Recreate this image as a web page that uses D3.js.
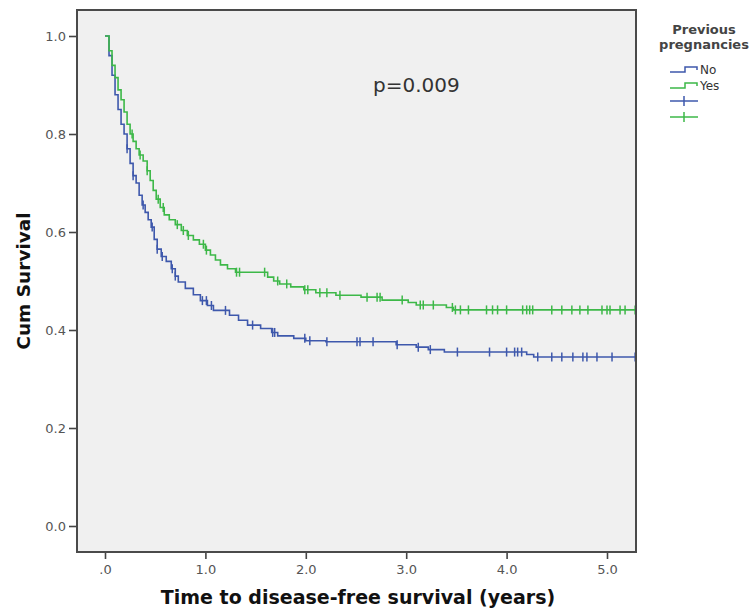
<!DOCTYPE html>
<html><head><meta charset="utf-8">
<script src="https://cdn.jsdelivr.net/npm/d3@7"></script>
<style>body{margin:0;background:#fff}svg{display:block}</style>
</head><body>
<script>
// ---- data ----
const groups = ["No", "Yes"];
const colors = ["#3E58AC", "#3DB848"];
// Kaplan-Meier steps: [time, survival after step]
const stepsNo = [[0,1.0],[0.04,0.96],[0.07,0.92],[0.10,0.88],[0.13,0.85],[0.16,0.82],[0.19,0.80],[0.22,0.77],[0.25,0.74],[0.28,0.715],[0.31,0.70],[0.34,0.675],[0.37,0.655],[0.40,0.64],[0.43,0.625],[0.46,0.61],[0.49,0.585],[0.52,0.565],[0.56,0.55],[0.61,0.54],[0.66,0.525],[0.70,0.51],[0.73,0.498],[0.80,0.485],[0.88,0.472],[0.95,0.46],[1.02,0.45],[1.08,0.44],[1.24,0.43],[1.33,0.42],[1.42,0.41],[1.55,0.403],[1.66,0.395],[1.72,0.388],[1.88,0.383],[2.00,0.378],[2.20,0.376],[2.90,0.370],[3.10,0.365],[3.22,0.360],[3.38,0.355],[4.20,0.350],[4.27,0.345]];
const stepsYes = [[0,1.0],[0.04,0.97],[0.07,0.94],[0.10,0.915],[0.13,0.89],[0.16,0.87],[0.19,0.845],[0.22,0.82],[0.25,0.80],[0.28,0.785],[0.31,0.77],[0.34,0.757],[0.38,0.745],[0.42,0.725],[0.45,0.705],[0.48,0.685],[0.51,0.667],[0.55,0.65],[0.59,0.635],[0.64,0.625],[0.70,0.615],[0.76,0.603],[0.82,0.593],[0.88,0.584],[0.94,0.575],[1.00,0.563],[1.05,0.553],[1.10,0.543],[1.15,0.533],[1.22,0.525],[1.30,0.518],[1.62,0.508],[1.68,0.500],[1.74,0.494],[1.85,0.488],[1.98,0.482],[2.10,0.476],[2.30,0.471],[2.55,0.467],[2.76,0.461],[3.02,0.456],[3.10,0.451],[3.40,0.446],[3.47,0.441]];
// censored observation times
const censorNo = [0.22,0.28,0.38,0.47,0.52,0.57,0.67,0.70,0.97,1.01,1.06,1.20,1.47,1.67,1.69,1.99,2.04,2.21,2.51,2.54,2.67,2.91,3.12,3.24,3.51,3.83,4.00,4.08,4.11,4.15,4.31,4.45,4.55,4.66,4.76,4.80,4.90,5.05,5.28];
const censorYes = [0.27,0.35,0.42,0.53,0.58,0.72,0.78,0.83,0.98,1.01,1.31,1.34,1.59,1.72,1.81,1.99,2.02,2.14,2.21,2.34,2.61,2.71,2.74,2.96,3.14,3.17,3.27,3.46,3.49,3.54,3.62,3.80,3.86,3.91,4.00,4.16,4.20,4.23,4.26,4.45,4.55,4.65,4.73,4.81,4.95,5.00,5.03,5.13,5.18,5.28];
const yTicks = [0, 0.2, 0.4, 0.6, 0.8, 1.0];
const xTicks = [0, 1, 2, 3, 4, 5];
const pText = "p=0.009";
const xTitle = "Time to disease-free survival (years)";
const yTitle = "Cum Survival";
const legendTitle = ["Previous", "pregnancies"];

// ---- layout ----
const W = 751, H = 611;
const frame = {l: 77, r: 636, t: 10, b: 552};
const svg = d3.select("body").append("svg").attr("width", W).attr("height", H);
const x = d3.scaleLinear().domain([0, 5]).range([105, 607]);
const y = d3.scaleLinear().domain([0, 1]).range([526, 36]);
const font = "'DejaVu Sans', Verdana, sans-serif";

svg.append("rect").attr("x", frame.l).attr("y", frame.t)
  .attr("width", frame.r - frame.l).attr("height", frame.b - frame.t)
  .attr("fill", "#f0f0f0");

svg.append("clipPath").attr("id", "clip").append("rect")
  .attr("x", frame.l).attr("y", frame.t)
  .attr("width", frame.r - frame.l).attr("height", frame.b - frame.t);

const series = [
  {steps: stepsNo, censor: censorNo, color: colors[0]},
  {steps: stepsYes, censor: censorYes, color: colors[1]}
];
const endT = x.invert(frame.r);
function survAt(steps, t) {
  let s = 1;
  for (const [tt, v] of steps) { if (tt <= t) s = v; else break; }
  return s;
}
const plot = svg.append("g").attr("clip-path", "url(#clip)");
series.forEach(sr => {
  const pts = [];
  let prev = 1;
  sr.steps.forEach(([t, s], i) => {
    if (i === 0) { pts.push([t, s]); prev = s; return; }
    pts.push([t, prev]); pts.push([t, s]); prev = s;
  });
  pts.push([endT, prev]);
  const line = d3.line().x(d => x(d[0])).y(d => y(d[1]));
  plot.append("path").attr("d", line(pts)).attr("fill", "none")
    .attr("stroke", sr.color).attr("stroke-width", 1.6);
  plot.selectAll(null).data(sr.censor).join("line")
    .attr("x1", d => x(d)).attr("x2", d => x(d))
    .attr("y1", d => y(survAt(sr.steps, d)) - 4.5)
    .attr("y2", d => y(survAt(sr.steps, d)) + 4.5)
    .attr("stroke", sr.color).attr("stroke-width", 1.5);
});

// axes
const yAxis = d3.axisLeft(y).tickValues(yTicks).tickFormat(d3.format(".1f")).tickSize(8).tickPadding(3);
const xAxis = d3.axisBottom(x).tickValues(xTicks)
  .tickFormat(d => d === 0 ? ".0" : d3.format(".1f")(d)).tickSize(7).tickPadding(6);
const gy = svg.append("g").attr("transform", `translate(${frame.l},0)`).call(yAxis);
const gx = svg.append("g").attr("transform", `translate(0,${frame.b})`).call(xAxis);
[gx, gy].forEach(g => {
  g.select(".domain").remove();
  g.selectAll(".tick line").attr("stroke", "#444").attr("stroke-width", 1.6);
  g.selectAll(".tick text").attr("fill", "#555").style("font-family", font).style("font-size", "13px");
});

svg.append("rect").attr("x", frame.l).attr("y", frame.t)
  .attr("width", frame.r - frame.l).attr("height", frame.b - frame.t)
  .attr("fill", "none").attr("stroke", "#4a4a4a").attr("stroke-width", 2);

// titles
svg.append("text").attr("x", 358).attr("y", 604).attr("text-anchor", "middle")
  .style("font-family", font).style("font-size", "19px").style("font-weight", "bold")
  .attr("fill", "#111").text(xTitle);
svg.append("text").attr("transform", "translate(30,281) rotate(-90)").attr("text-anchor", "middle")
  .style("font-family", font).style("font-size", "18.5px").style("font-weight", "bold")
  .attr("fill", "#111").text(yTitle);

svg.append("text").attr("x", 373).attr("y", 92)
  .style("font-family", font).style("font-size", "20px").attr("fill", "#333").text(pText);

// legend
const lg = svg.append("g");
legendTitle.forEach((t, i) => {
  lg.append("text").attr("x", 704).attr("y", 34 + i * 15).attr("text-anchor", "middle")
    .style("font-family", font).style("font-size", "13px").style("font-weight", "bold")
    .attr("fill", "#444").text(t);
});
groups.forEach((g, i) => {
  const cy = 69 + i * 16;
  lg.append("path").attr("d", `M670,${cy + 3}H685V${cy - 2}H697V${cy + 1}`)
    .attr("fill", "none").attr("stroke", colors[i]).attr("stroke-width", 1.5);
  lg.append("text").attr("x", 700).attr("y", cy + 5)
    .style("font-family", font).style("font-size", "12px").attr("fill", "#333").text(g);
});
groups.forEach((g, i) => {
  const cy = 101 + i * 16;
  lg.append("line").attr("x1", 670).attr("x2", 698).attr("y1", cy).attr("y2", cy)
    .attr("stroke", colors[i]).attr("stroke-width", 1.5);
  lg.append("line").attr("x1", 684).attr("x2", 684).attr("y1", cy - 5).attr("y2", cy + 5)
    .attr("stroke", colors[i]).attr("stroke-width", 1.5);
});
</script>
</body></html>
